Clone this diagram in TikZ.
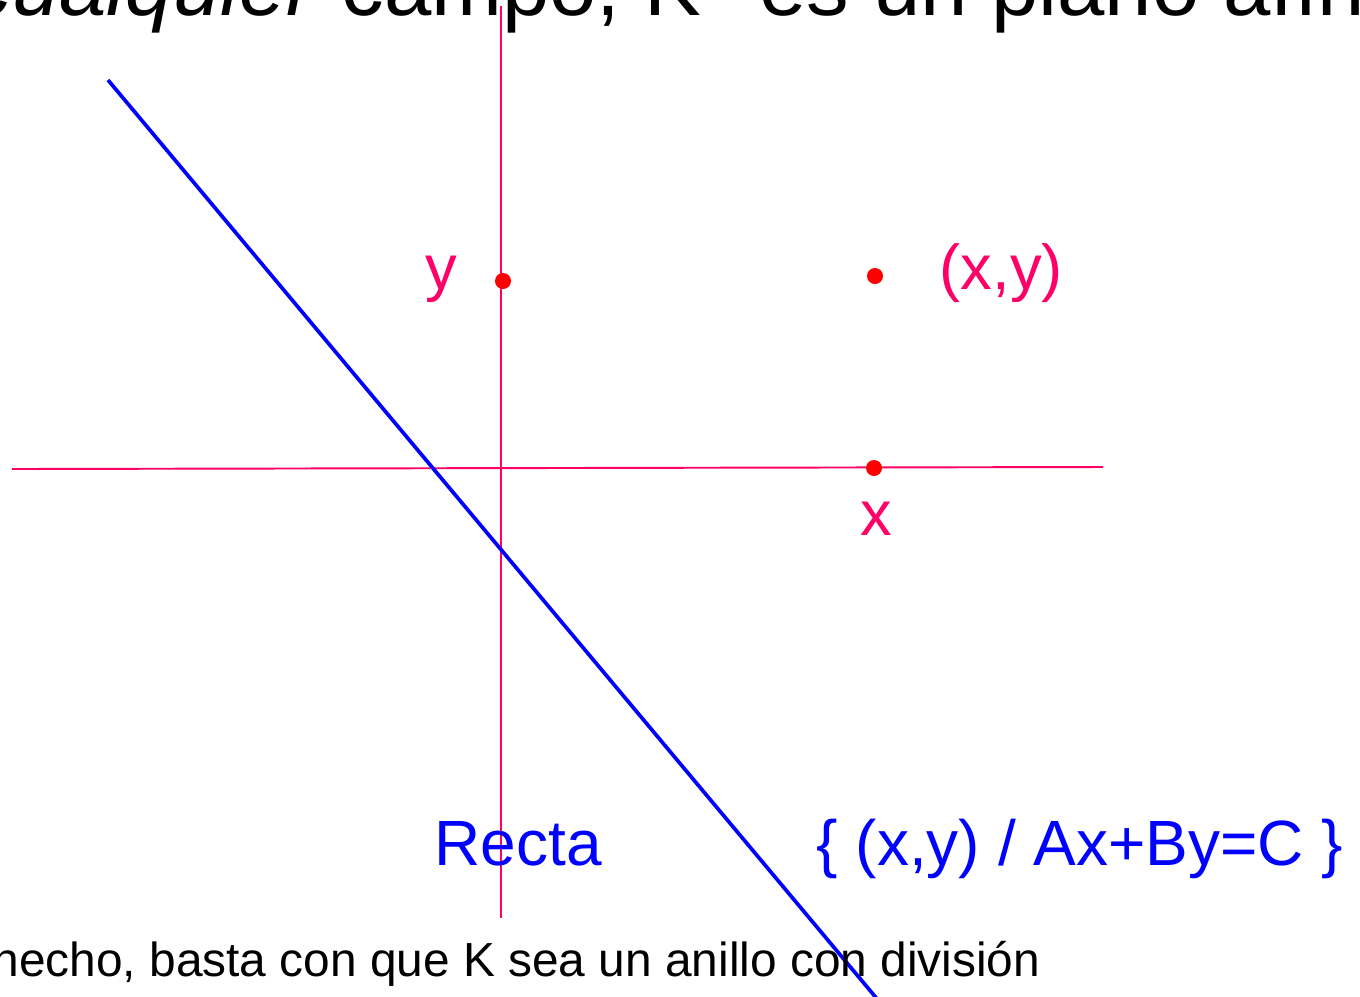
\documentclass[tikz,border=0pt]{standalone}
\usepackage{fontspec}
\setmainfont{Liberation Sans}
\usepackage{tikz}
\usetikzlibrary{positioning}
\definecolor{axispink}{RGB}{255,0,102}
\definecolor{ptred}{RGB}{255,0,0}
\definecolor{lineblue}{RGB}{0,0,255}
\tikzset{
  axis/.style={line width=0.55pt,draw=axispink},
  recta/.style={line width=1.05pt,draw=lineblue},
  pt/.style={circle,fill=ptred,inner sep=0pt,minimum size=0.16cm},
  ptlabel/.style={font=\fontsize{18}{21}\selectfont,text=axispink,inner sep=0pt},
  bluetext/.style={font=\fontsize{18.2}{22}\selectfont,text=lineblue,inner sep=0pt}
}

\begin{document}
\begin{tikzpicture}[
  x=0.01cm,y=-0.01cm,
  headtext/.style={font=\fontsize{24.2}{28}\selectfont,inner sep=0pt,anchor=base west},
  foottext/.style={font=\fontsize{13.6}{16}\selectfont,inner sep=0pt,anchor=base east}
]
  \useasboundingbox (0,0) rectangle (1360,996);
  \clip (0,0) rectangle (1360,996);

  \node[headtext] (head) at (-31,15)
    {\textit{cualquier} campo, K\textsuperscript{2} es un plano afín};

  \coordinate (xl) at (12,469);
  \coordinate (xr) at (1103,467);
  \coordinate (yt) at (501,6);
  \coordinate (yb) at (501,918);
  \draw[axis] (xl)--(xr);
  \draw[axis] (yt)--(yb);

  \coordinate (rt) at (108,80);
  \coordinate (rb) at (883,1006);
  \draw[recta] (rt)--(rb);

  \node[pt] (py)  at (503,281) {};
  \node[pt] (pxy) at (875,276) {};
  \node[pt] (px)  at (874,468) {};

  \node[ptlabel,anchor=base]      (ly)  at (441,289) {y};
  \node[ptlabel,anchor=base west] (lxy) at (939,289) {(x,y)};
  \node[ptlabel,anchor=base]      (lx)  at (876,535) {x};

  \node[bluetext,anchor=base west] (lrecta) at (434,865) {Recta};
  \node[bluetext,anchor=base west] (lset)   at (816,865) {\{ (x,y) / Ax+By=C \}};

  \node[foottext] (foot) at (1041,976)
    {hecho, basta con que K sea un anillo con división};
\end{tikzpicture}
\end{document}
